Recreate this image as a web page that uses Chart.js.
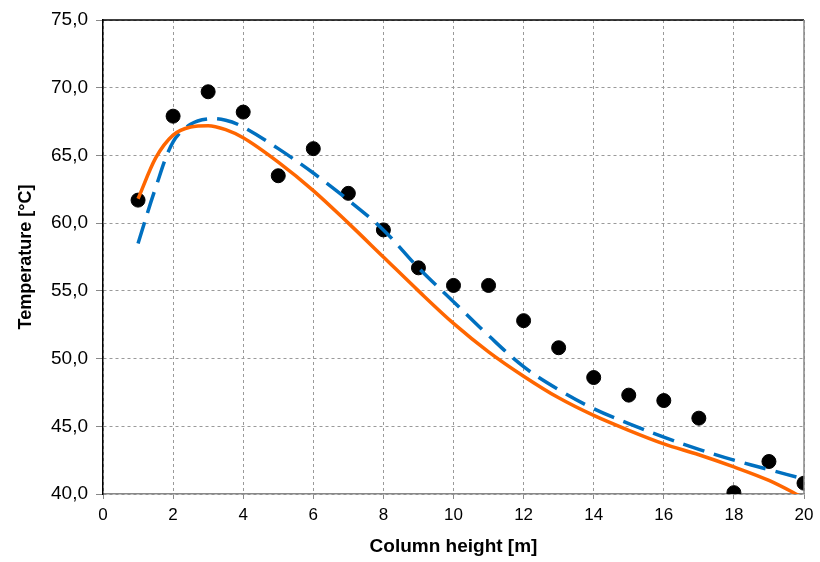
<!DOCTYPE html>
<html>
<head>
    <meta charset="utf-8">
    <script src="https://cdn.jsdelivr.net/npm/chart.js@4.4.1/dist/chart.umd.min.js"></script>
    <title>Temperature along the column</title>
    <style>
        body { margin: 0; background: #fff; }
        #box { width: 820px; height: 562px; }
    </style>
</head>
<body>
<div id="box">
    <canvas id="myChart"></canvas>
</div>

<script>
    // measured points, one per metre
    var heights = [1, 2, 3, 4, 5, 6, 7, 8, 9, 10, 11, 12, 13, 14, 15, 16, 17, 18, 19, 20];
    var measured = [61.7, 67.9, 69.7, 68.2, 63.5, 65.5, 62.2, 59.5, 56.7, 55.4, 55.4, 52.8, 50.8, 48.6, 47.3, 46.9, 45.6, 40.1, 42.4, 40.8];

    // the two curves
    var curveX = [1, 1.5, 2, 2.5, 3, 3.5, 4, 5, 6, 7, 8, 9, 10, 11, 12, 13, 14, 15, 16, 17, 18, 19, 20];
    var orangeY = [61.8, 64.8, 66.5, 67.1, 67.2, 66.9, 66.3, 64.5, 62.4, 60.0, 57.5, 55.0, 52.6, 50.5, 48.7, 47.1, 45.8, 44.7, 43.7, 42.9, 42.0, 41.0, 39.7];
    var blueY = [58.5, 62.6, 66.0, 67.3, 67.7, 67.6, 67.1, 65.5, 63.7, 61.7, 59.5, 56.7, 54.2, 51.7, 49.4, 47.7, 46.3, 45.2, 44.2, 43.3, 42.5, 41.8, 41.1];

    var xTicks = [0, 2, 4, 6, 8, 10, 12, 14, 16, 18, 20];
    var yTicks = [40, 45, 50, 55, 60, 65, 70, 75];

    function pts(xs, ys) {
        var out = [];
        for (var i = 0; i < xs.length; i++) {
            out.push({ x: xs[i], y: ys[i] });
        }
        return out;
    }

    // top and right frame of the plot area
    var frame = {
        id: 'frame',
        afterDraw: function(chart) {
            var a = chart.chartArea;
            var ctx = chart.ctx;
            ctx.save();
            ctx.lineWidth = 1.5;
            ctx.strokeStyle = '#000';
            ctx.beginPath();
            ctx.moveTo(a.left, a.top);
            ctx.lineTo(a.right, a.top);
            ctx.stroke();
            ctx.strokeStyle = '#888';
            ctx.beginPath();
            ctx.moveTo(a.right, a.top);
            ctx.lineTo(a.right, a.bottom);
            ctx.stroke();
            ctx.restore();
        }
    };

    Chart.defaults.font.family = "'Liberation Sans', Arial, sans-serif";
    Chart.defaults.color = '#000';

    var config = {
        type: 'scatter',
        data: {
            datasets: [{
                label: 'Model 1',
                data: pts(curveX, orangeY),
                showLine: true,
                borderColor: '#ff6600',
                borderWidth: 3.5,
                pointRadius: 0,
                cubicInterpolationMode: 'monotone',
                order: 0
            }, {
                label: 'Model 2',
                data: pts(curveX, blueY),
                showLine: true,
                borderColor: '#0070c0',
                borderWidth: 3.5,
                borderDash: [22, 10],
                pointRadius: 0,
                tension: 0.35,
                order: 1
            }, {
                label: 'Measured',
                data: pts(heights, measured),
                backgroundColor: '#000',
                borderColor: '#000',
                pointRadius: 7,
                order: 2
            }]
        },
        options: {
            responsive: true,
            maintainAspectRatio: false,
            animation: false,
            layout: { padding: { top: 20, right: 16, bottom: 0, left: 0 } },
            plugins: {
                legend: { display: false },
                tooltip: { enabled: false }
            },
            scales: {
                x: {
                    type: 'linear',
                    min: 0,
                    max: 20,
                    afterBuildTicks: function(s) { s.ticks = xTicks.map(function(v) { return { value: v }; }); },
                    afterFit: function(s) { s.height = 68; },
                    ticks: { font: { size: 17 }, padding: 6, maxRotation: 0 },
                    grid: {
                        color: '#9a9a9a',
                        tickColor: '#888',
                        tickLength: 5,
                        tickBorderDash: []
                    },
                    border: { display: true, color: '#888', width: 1.5, dash: [3, 3] },
                    title: {
                        display: true,
                        text: 'Column height [m]',
                        font: { size: 19, weight: 'bold' },
                        padding: { top: 0, bottom: 4 }
                    }
                },
                y: {
                    min: 40,
                    max: 75,
                    afterBuildTicks: function(s) { s.ticks = yTicks.map(function(v) { return { value: v }; }); },
                    afterFit: function(s) { s.width = 103; },
                    ticks: {
                        font: { size: 19 },
                        padding: 8,
                        callback: function(v) { return v.toFixed(1).replace('.', ','); }
                    },
                    grid: {
                        color: '#9a9a9a',
                        tickColor: '#888',
                        tickLength: 7,
                        tickBorderDash: []
                    },
                    border: { display: true, color: '#000', width: 1.5, dash: [3, 3] },
                    title: {
                        display: true,
                        text: 'Temperature [°C]',
                        font: { size: 18, weight: 'bold' },
                        padding: { top: 15, bottom: 0 }
                    }
                }
            }
        },
        plugins: [frame]
    };

    var myChart = new Chart(document.getElementById('myChart'), config);
</script>
</body>
</html>
